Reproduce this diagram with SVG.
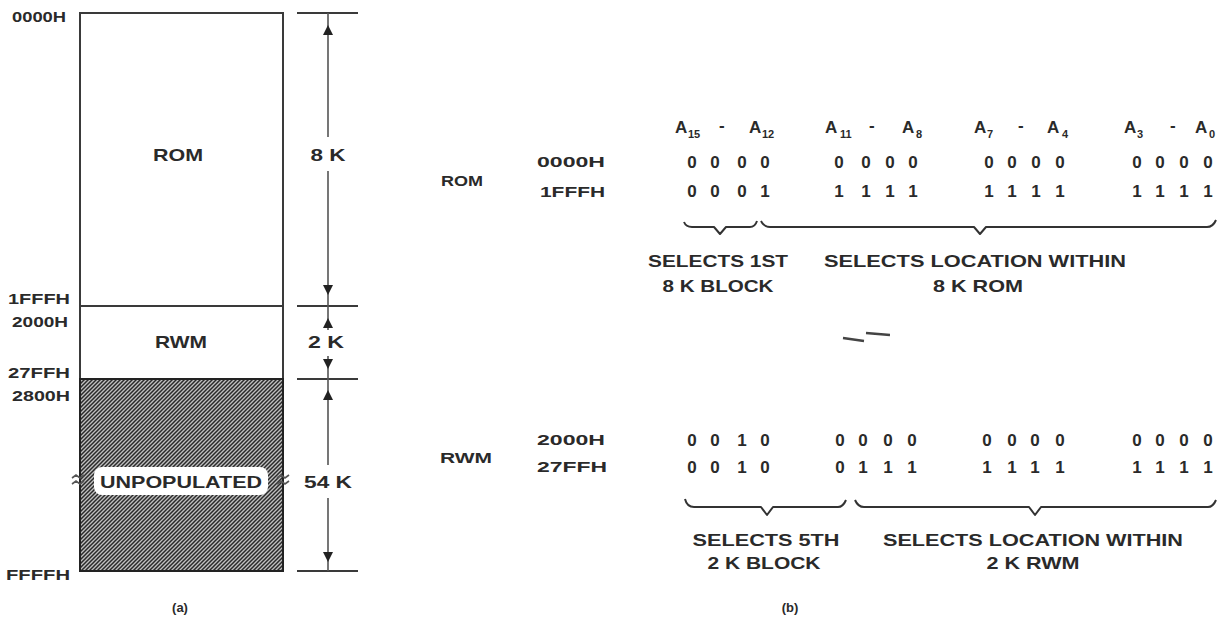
<svg xmlns="http://www.w3.org/2000/svg" width="1231" height="630" viewBox="0 0 1231 630">
<style>
text{font-family:"Liberation Sans",Arial,sans-serif;font-weight:bold;fill:#2a2a2a;}
.lbl{font-size:14px;}
.big{font-size:17px;}
.dig{font-size:17px;text-anchor:middle;}
.cap{font-size:17px;text-anchor:middle;}
.hd{font-size:17px;}
.sub{font-size:11px;}
.ln{stroke:#3a3a3a;stroke-width:2;fill:none;}
.thin{stroke:#555;stroke-width:1.6;fill:none;}
.br{stroke:#333;stroke-width:2;fill:none;stroke-linejoin:round;}
.ah{fill:#222;}
</style>
<defs>
<pattern id="hatch" patternUnits="userSpaceOnUse" width="4" height="4">
<rect width="4" height="4" fill="#c0c0c0"/>
<path d="M-1,1 l2,-2 M0,4 l4,-4 M3,5 l2,-2" stroke="#2a2a2a" stroke-width="1.5"/>
</pattern>
</defs>
<rect width="1231" height="630" fill="#ffffff"/>

<!-- (a) memory map -->
<g id="memory-map">
<g id="rom-block">
<rect x="80" y="13" width="203" height="293" fill="#ffffff" class="ln"/>
<text class="big" x="178" y="161" text-anchor="middle" textLength="50" lengthAdjust="spacingAndGlyphs">ROM</text>
</g>
<g id="rwm-block">
<rect x="80" y="306" width="203" height="73" fill="#ffffff" class="ln"/>
<text class="big" x="181" y="348" text-anchor="middle" textLength="52" lengthAdjust="spacingAndGlyphs">RWM</text>
</g>
<g id="unpopulated-block">
<rect x="80" y="379" width="203" height="192" fill="url(#hatch)" stroke="#222" stroke-width="2"/>
<rect x="94" y="467" width="174" height="28" rx="8" fill="#ffffff"/>
<text class="big" x="181" y="488" text-anchor="middle" textLength="162" lengthAdjust="spacingAndGlyphs">UNPOPULATED</text>
<path d="M72,478 l4,-3 l4,3 l4,-3 M72,484 l4,-3 l4,3 l4,-3" class="thin"/>
<path d="M277,478 l4,-3 l4,3 l4,-3 M277,484 l4,-3 l4,3 l4,-3" class="thin"/>
</g>
<g id="address-labels">
<text class="lbl" x="12" y="22" textLength="54" lengthAdjust="spacingAndGlyphs">0000H</text>
<text class="lbl" x="8" y="304" textLength="62" lengthAdjust="spacingAndGlyphs">1FFFH</text>
<text class="lbl" x="12" y="327" textLength="56" lengthAdjust="spacingAndGlyphs">2000H</text>
<text class="lbl" x="8" y="378" textLength="62" lengthAdjust="spacingAndGlyphs">27FFH</text>
<text class="lbl" x="12" y="401" textLength="58" lengthAdjust="spacingAndGlyphs">2800H</text>
<text class="lbl" x="6" y="580" textLength="64" lengthAdjust="spacingAndGlyphs">FFFFH</text>
</g>
<g id="dimensions">
<path d="M297,13 H358 M297,306 H358 M297,379 H358 M297,571 H358" class="ln"/>
<path d="M328,13 V137 M328,171 V330 M328,356 V465 M328,498 V571" class="thin"/>
<polygon class="ah" points="328,25 323,35 333,35"/>
<polygon class="ah" points="328,295 323,285 333,285"/>
<polygon class="ah" points="328,318 323,328 333,328"/>
<polygon class="ah" points="328,369 323,359 333,359"/>
<polygon class="ah" points="328,390 323,400 333,400"/>
<polygon class="ah" points="328,562 323,552 333,552"/>
<text class="big" x="328" y="161" text-anchor="middle" textLength="35" lengthAdjust="spacingAndGlyphs">8 K</text>
<text class="big" x="326" y="348" text-anchor="middle" textLength="36" lengthAdjust="spacingAndGlyphs">2 K</text>
<text class="big" x="328" y="488" text-anchor="middle" textLength="48" lengthAdjust="spacingAndGlyphs">54 K</text>
</g>
<text x="180" y="612" font-size="13" text-anchor="middle" font-weight="normal">(a)</text>
</g>

<!-- (b) address decoding -->
<g id="headers">
<text class="hd" x="675" y="133">A</text><text class="sub" x="688" y="138">15</text>
<text class="hd" x="719" y="131">-</text>
<text class="hd" x="749" y="133">A</text><text class="sub" x="762" y="138">12</text>
<text class="hd" x="825" y="133">A</text><text class="sub" x="840" y="138">11</text>
<text class="hd" x="869" y="131">-</text>
<text class="hd" x="902" y="133">A</text><text class="sub" x="916" y="138">8</text>
<text class="hd" x="974" y="133">A</text><text class="sub" x="987" y="138">7</text>
<text class="hd" x="1018" y="131">-</text>
<text class="hd" x="1047" y="133">A</text><text class="sub" x="1062" y="138">4</text>
<text class="hd" x="1124" y="133">A</text><text class="sub" x="1137" y="138">3</text>
<text class="hd" x="1170" y="131">-</text>
<text class="hd" x="1195" y="133">A</text><text class="sub" x="1209" y="138">0</text>
</g>

<g id="rom-decode">
<text class="lbl" x="441" y="186" font-size="15" textLength="42" lengthAdjust="spacingAndGlyphs">ROM</text>
<text class="lbl" x="537" y="167" textLength="68" lengthAdjust="spacingAndGlyphs">0000H</text>
<text class="lbl" x="540" y="197" textLength="65" lengthAdjust="spacingAndGlyphs">1FFFH</text>
<g class="bits">
<text class="dig" y="168"><tspan x="692">0</tspan><tspan x="715">0</tspan><tspan x="742">0</tspan><tspan x="765">0</tspan><tspan x="839">0</tspan><tspan x="866">0</tspan><tspan x="890">0</tspan><tspan x="913">0</tspan><tspan x="989">0</tspan><tspan x="1012">0</tspan><tspan x="1036">0</tspan><tspan x="1060">0</tspan><tspan x="1137">0</tspan><tspan x="1160">0</tspan><tspan x="1184">0</tspan><tspan x="1208">0</tspan></text>
<text class="dig" y="197"><tspan x="692">0</tspan><tspan x="715">0</tspan><tspan x="742">0</tspan><tspan x="765">1</tspan><tspan x="839">1</tspan><tspan x="866">1</tspan><tspan x="890">1</tspan><tspan x="913">1</tspan><tspan x="989">1</tspan><tspan x="1012">1</tspan><tspan x="1036">1</tspan><tspan x="1060">1</tspan><tspan x="1137">1</tspan><tspan x="1160">1</tspan><tspan x="1184">1</tspan><tspan x="1208">1</tspan></text>
</g>
<path class="br" d="M684,222 Q686,227 692,227 H714 L720,234 L726,227 H750 Q755,227 757,221"/>
<path class="br" d="M761,221 Q764,227 770,227 H974 L980,234 L986,227 H1207 Q1213,227 1216,220"/>
<text class="cap" x="718" y="267" textLength="140" lengthAdjust="spacingAndGlyphs">SELECTS 1ST</text>
<text class="cap" x="718" y="292" textLength="111" lengthAdjust="spacingAndGlyphs">8 K BLOCK</text>
<text class="cap" x="975" y="267" textLength="302" lengthAdjust="spacingAndGlyphs">SELECTS LOCATION WITHIN</text>
<text class="cap" x="978" y="292" textLength="90" lengthAdjust="spacingAndGlyphs">8 K ROM</text>
</g>

<path d="M843,338 L864,341 M866,333 L890,335" stroke="#444" stroke-width="2.5" fill="none"/>

<g id="rwm-decode">
<text class="lbl" x="440" y="463" font-size="15" textLength="52" lengthAdjust="spacingAndGlyphs">RWM</text>
<text class="lbl" x="537" y="445" textLength="68" lengthAdjust="spacingAndGlyphs">2000H</text>
<text class="lbl" x="537" y="472" textLength="70" lengthAdjust="spacingAndGlyphs">27FFH</text>
<g class="bits">
<text class="dig" y="446"><tspan x="692">0</tspan><tspan x="715">0</tspan><tspan x="742">1</tspan><tspan x="765">0</tspan><tspan x="840">0</tspan><tspan x="863">0</tspan><tspan x="888">0</tspan><tspan x="912">0</tspan><tspan x="987">0</tspan><tspan x="1012">0</tspan><tspan x="1035">0</tspan><tspan x="1060">0</tspan><tspan x="1137">0</tspan><tspan x="1160">0</tspan><tspan x="1184">0</tspan><tspan x="1208">0</tspan></text>
<text class="dig" y="473"><tspan x="692">0</tspan><tspan x="715">0</tspan><tspan x="742">1</tspan><tspan x="765">0</tspan><tspan x="840">0</tspan><tspan x="863">1</tspan><tspan x="888">1</tspan><tspan x="912">1</tspan><tspan x="987">1</tspan><tspan x="1012">1</tspan><tspan x="1035">1</tspan><tspan x="1060">1</tspan><tspan x="1137">1</tspan><tspan x="1160">1</tspan><tspan x="1184">1</tspan><tspan x="1208">1</tspan></text>
</g>
<path class="br" d="M685,499 Q687,507 694,507 H761 L767,515 L773,507 H838 Q843,507 846,500"/>
<path class="br" d="M855,500 Q858,507 864,507 H1029 L1035,515 L1041,507 H1208 Q1213,507 1216,500"/>
<text class="cap" x="766" y="546" textLength="147" lengthAdjust="spacingAndGlyphs">SELECTS 5TH</text>
<text class="cap" x="764" y="569" textLength="113" lengthAdjust="spacingAndGlyphs">2 K BLOCK</text>
<text class="cap" x="1033" y="546" textLength="300" lengthAdjust="spacingAndGlyphs">SELECTS LOCATION WITHIN</text>
<text class="cap" x="1033" y="569" textLength="93" lengthAdjust="spacingAndGlyphs">2 K RWM</text>
</g>
<text x="790" y="612" font-size="13" text-anchor="middle" font-weight="normal">(b)</text>
</svg>
